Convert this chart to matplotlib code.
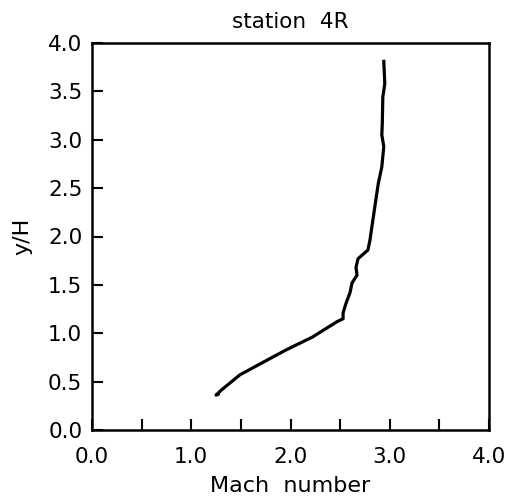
import numpy as np
import matplotlib
matplotlib.use("Agg")
import matplotlib.pyplot as plt
from matplotlib.ticker import MultipleLocator, FormatStrFormatter

# profile
mach = [1.27, 1.25, 1.30, 1.49, 1.76, 1.96, 2.22, 2.36, 2.47, 2.53, 2.53,
        2.55, 2.57, 2.60, 2.62, 2.67, 2.66, 2.68, 2.78, 2.80, 2.82, 2.85,
        2.885, 2.92, 2.94, 2.92, 2.925, 2.93, 2.95, 2.94]
y_h = [0.37, 0.36, 0.41, 0.57, 0.72, 0.83, 0.96, 1.05, 1.12, 1.15, 1.21,
       1.28, 1.34, 1.42, 1.52, 1.60, 1.68, 1.77, 1.86, 1.96, 2.10, 2.31,
       2.55, 2.72, 2.93, 3.05, 3.17, 3.44, 3.58, 3.81]

plt.rcParams['font.family'] = ['DejaVu Sans']

fig = plt.figure(figsize=(5.18, 5.01), dpi=100)
ax = fig.add_axes([92/518, 1-430/501, 397/518, 387/501])

ax.plot(mach, y_h, color="black", lw=2.3)

ax.set_xlim(0, 4)
ax.set_ylim(0, 4)
ax.xaxis.set_major_locator(MultipleLocator(1.0))
ax.xaxis.set_minor_locator(MultipleLocator(0.5))
ax.yaxis.set_major_locator(MultipleLocator(0.5))
ax.xaxis.set_major_formatter(FormatStrFormatter("%.1f"))
ax.yaxis.set_major_formatter(FormatStrFormatter("%.1f"))
ax.tick_params(which="both", direction="in", top=False, right=False,
               width=1.5, labelsize=15.5)
ax.tick_params(which="both", length=8)
ax.tick_params(axis="x", pad=12)
ax.tick_params(axis="y", pad=7)
for s in ax.spines.values():
    s.set_linewidth(1.8)

ax.set_xlabel("Mach  number", fontsize=16, labelpad=7)
ax.set_ylabel("y/H", fontsize=16, labelpad=11)
ax.set_title("station  4R", fontsize=15.5, pad=11)

fig.savefig("out.png", dpi=100)
